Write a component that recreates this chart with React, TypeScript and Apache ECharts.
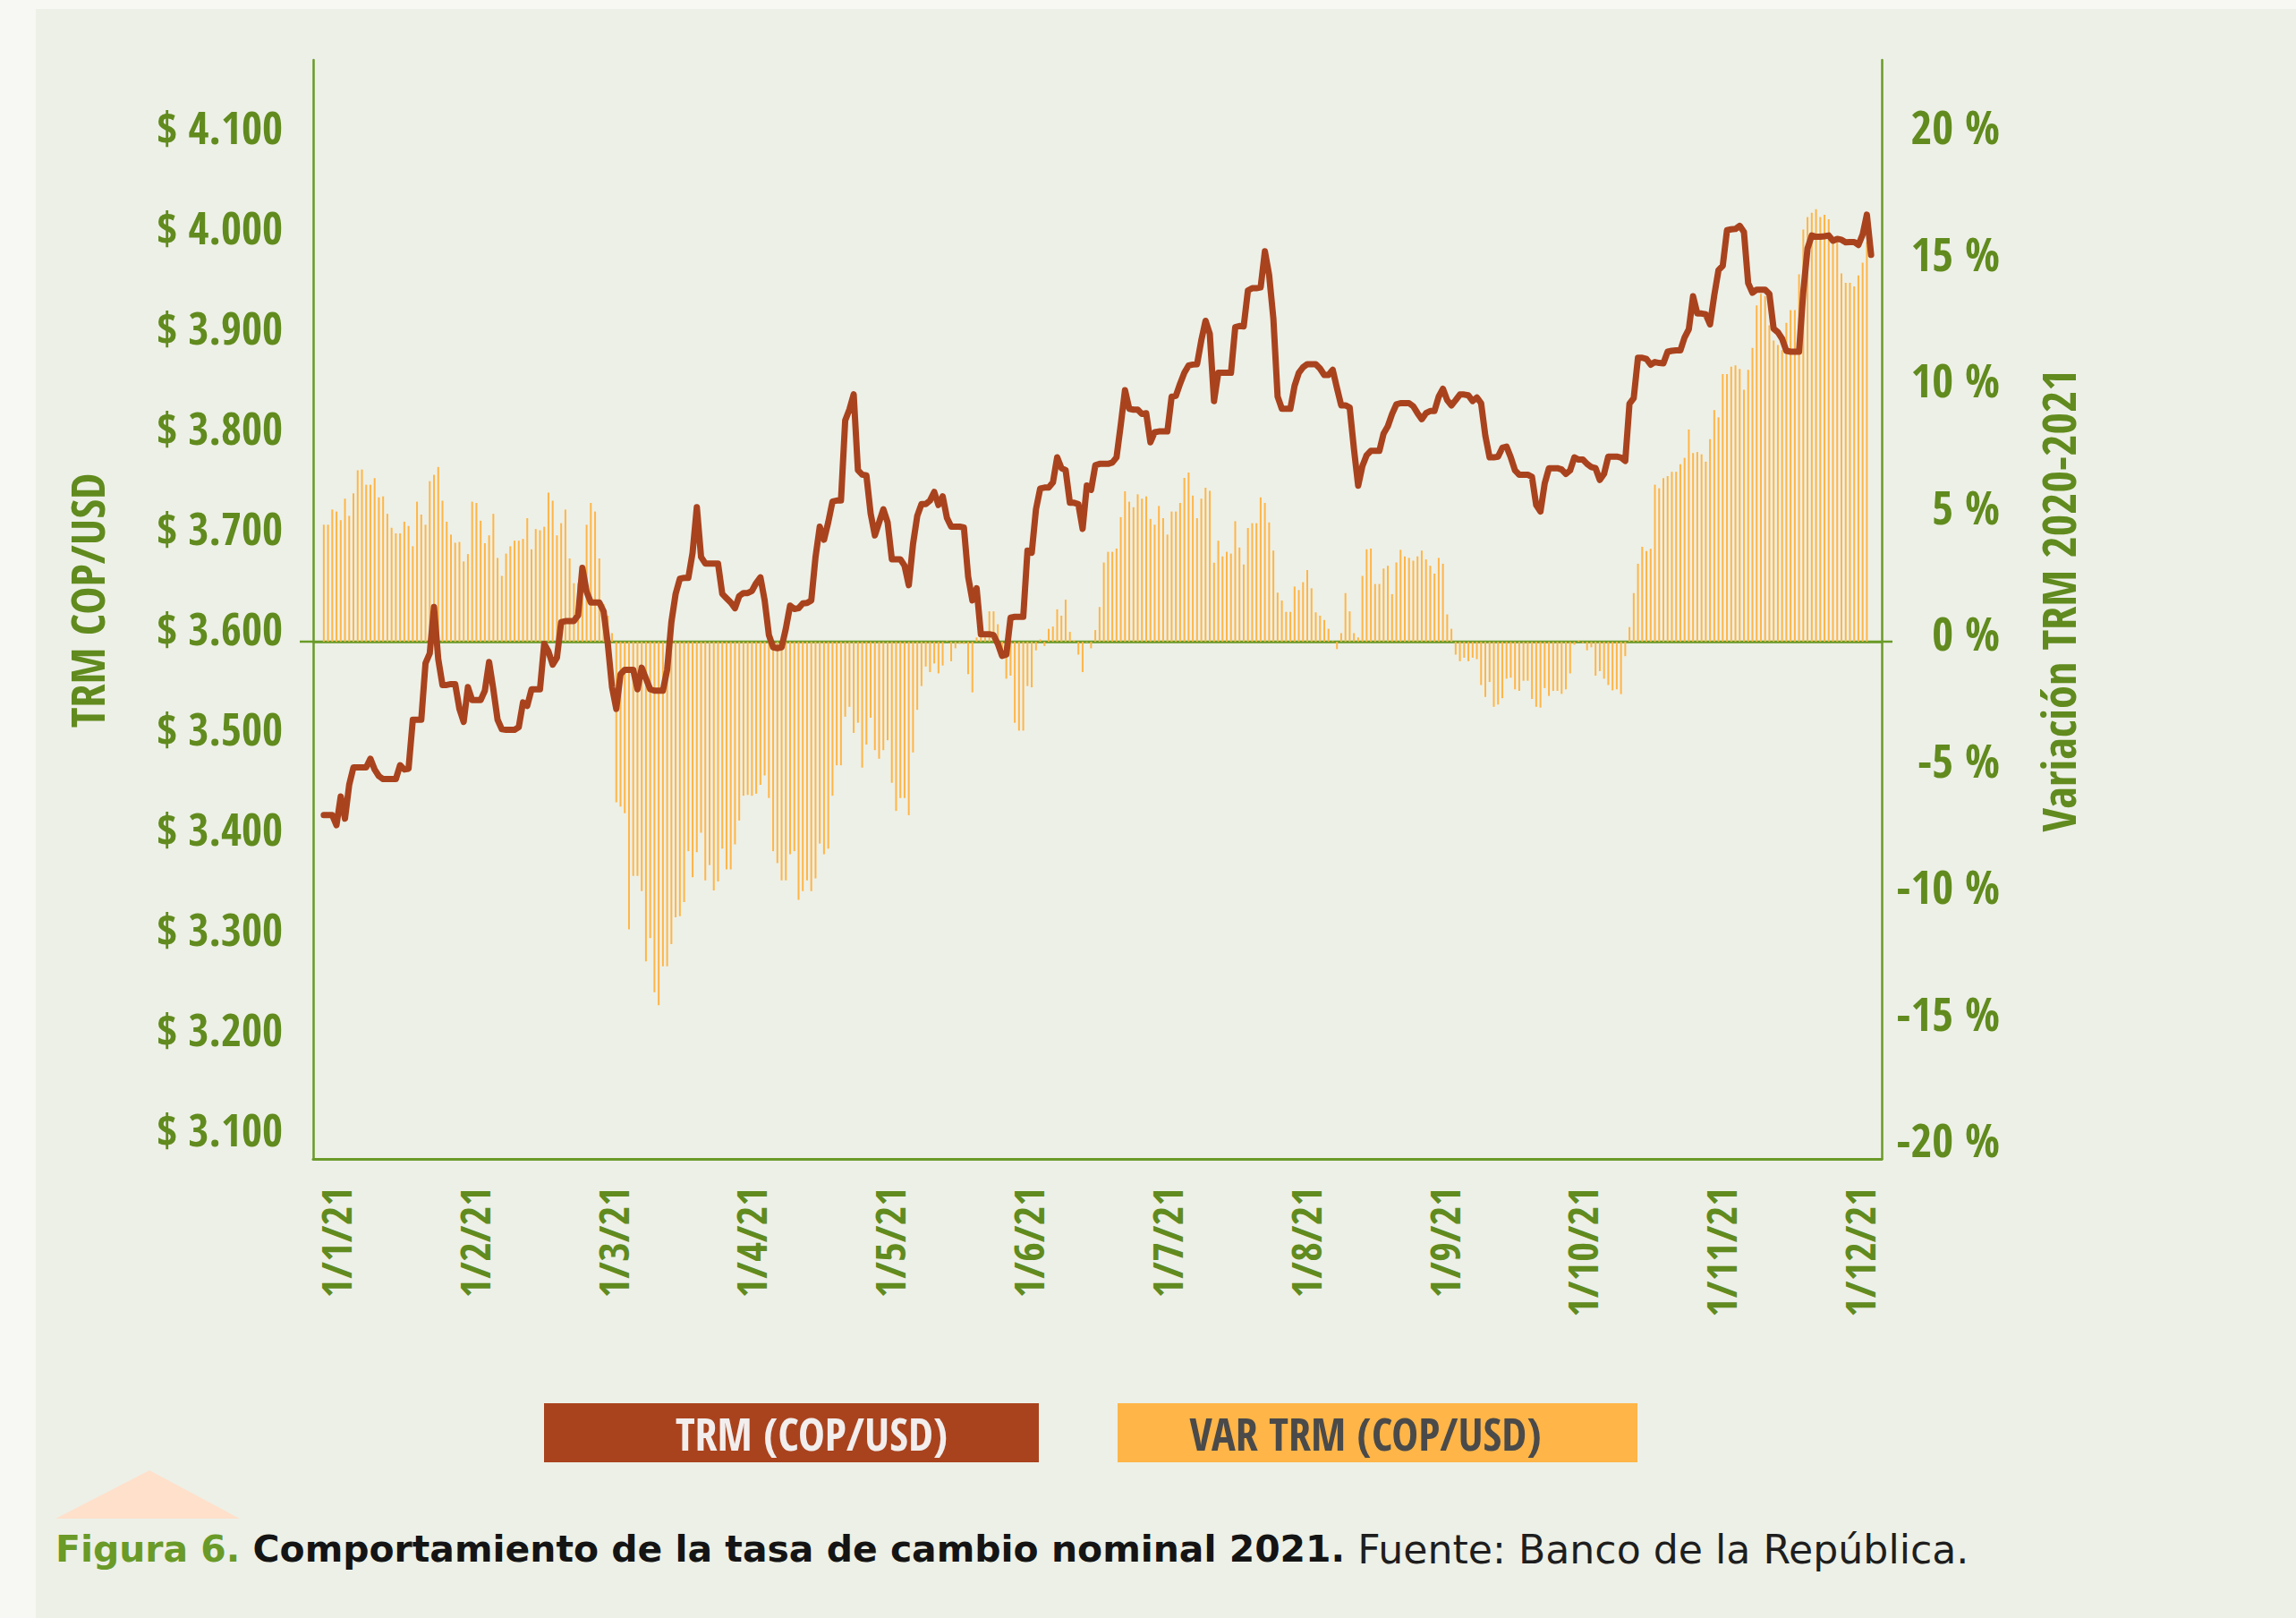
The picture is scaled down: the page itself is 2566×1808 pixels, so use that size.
import React, { useEffect, useRef } from 'react';
import * as echarts from 'echarts';

// ---------- data ----------
const monthLabels = ['1/1/21', '1/2/21', '1/3/21', '1/4/21', '1/5/21', '1/6/21', '1/7/21', '1/8/21', '1/9/21', '1/10/21', '1/11/21', '1/12/21'];
const leftTicks = [3100, 3200, 3300, 3400, 3500, 3600, 3700, 3800, 3900, 4000, 4100];
const rightTicks = [-20, -15, -10, -5, 0, 5, 10, 15, 20];

// TRM (COP/USD), daily 2021
const trm = [
  3422.5, 3422.5, 3422.5, 3412.5, 3441.1, 3419.0, 3452.8, 3470.1, 3470.1, 3470.1,
  3470.1, 3478.7, 3468.0, 3461.4, 3458.4, 3458.4, 3458.4, 3458.4, 3472.3, 3468.0,
  3468.8, 3517.7, 3517.7, 3517.7, 3574.0, 3583.9, 3630.2, 3578.3, 3552.3, 3552.3,
  3553.2, 3553.2, 3528.5, 3515.5, 3550.2, 3537.2, 3537.2, 3537.2, 3546.7, 3575.3,
  3548.0, 3517.7, 3508.2, 3507.7, 3507.7, 3507.7, 3510.3, 3535.0, 3531.5, 3548.0,
  3548.0, 3548.0, 3593.4, 3585.7, 3572.7, 3579.6, 3615.1, 3616.0, 3616.0, 3616.0,
  3622.0, 3669.2, 3645.4, 3634.6, 3634.6, 3634.6, 3625.9, 3593.4, 3550.2, 3528.5,
  3563.1, 3567.5, 3567.5, 3567.5, 3548.0, 3569.6, 3558.8, 3548.0, 3546.7, 3546.7,
  3546.7, 3567.5, 3615.1, 3643.2, 3658.4, 3659.2, 3659.2, 3684.3, 3729.8, 3680.0,
  3673.5, 3673.5, 3673.5, 3673.5, 3643.2, 3638.9, 3634.6, 3628.9, 3641.1, 3644.1,
  3644.1, 3646.2, 3654.0, 3659.7, 3636.7, 3602.1, 3590.0, 3589.1, 3590.0, 3608.6,
  3631.5, 3628.1, 3628.9, 3633.7, 3634.1, 3636.7, 3680.0, 3710.3, 3697.3, 3714.6,
  3735.4, 3736.3, 3736.3, 3816.3, 3827.2, 3842.3, 3766.6, 3762.2, 3761.4, 3723.3,
  3701.6, 3714.6, 3727.6, 3714.6, 3677.8, 3677.8, 3677.8, 3671.3, 3651.9, 3693.0,
  3721.1, 3732.8, 3732.8, 3736.3, 3744.9, 3731.9, 3740.6, 3719.0, 3710.3, 3710.3,
  3710.3, 3709.4, 3660.5, 3636.7, 3648.8, 3603.0, 3603.0, 3603.0, 3602.1, 3593.4,
  3581.3, 3582.6, 3619.4, 3620.3, 3620.3, 3620.3, 3686.5, 3684.3, 3727.6, 3748.4,
  3749.3, 3749.3, 3754.4, 3779.5, 3768.7, 3766.6, 3734.1, 3734.1, 3732.8, 3708.1,
  3751.4, 3747.0, 3771.6, 3772.9, 3772.9, 3772.9, 3774.2, 3779.4, 3811.8, 3846.5,
  3827.9, 3827.0, 3827.0, 3822.7, 3823.5, 3794.5, 3804.5, 3805.3, 3805.3, 3805.3,
  3840.0, 3840.8, 3853.0, 3863.8, 3871.1, 3872.0, 3872.4, 3896.2, 3915.7, 3902.7,
  3835.6, 3863.8, 3863.8, 3863.8, 3863.8, 3909.2, 3910.5, 3910.1, 3946.0, 3948.2,
  3948.2, 3949.0, 3985.0, 3961.2, 3917.9, 3840.0, 3827.9, 3827.9, 3827.9, 3850.8,
  3863.8, 3869.4, 3872.4, 3872.4, 3872.4, 3868.1, 3861.6, 3861.6, 3866.8, 3848.6,
  3831.3, 3831.3, 3829.1, 3788.0, 3751.2, 3770.7, 3781.6, 3785.9, 3785.9, 3785.9,
  3803.2, 3810.5, 3822.7, 3832.2, 3833.5, 3833.5, 3833.5, 3830.4, 3823.5, 3817.5,
  3823.5, 3825.7, 3825.7, 3840.0, 3847.8, 3836.5, 3831.3, 3836.5, 3842.1, 3842.1,
  3841.3, 3835.6, 3839.1, 3833.5, 3801.0, 3779.4, 3779.4, 3780.2, 3788.9, 3790.2,
  3779.4, 3766.4, 3762.1, 3762.1, 3762.1, 3759.9, 3731.8, 3725.3, 3753.4, 3768.6,
  3768.6, 3768.6, 3767.3, 3762.9, 3766.4, 3779.4, 3777.2, 3777.2, 3772.9, 3769.8,
  3768.6, 3756.9, 3762.9, 3780.2, 3780.2, 3780.2, 3779.2, 3775.8, 3832.9, 3838.5,
  3878.8, 3878.8, 3877.5, 3871.9, 3874.5, 3873.6, 3873.2, 3884.8, 3885.7, 3886.1,
  3886.1, 3899.1, 3907.3, 3940.2, 3922.9, 3922.9, 3922.1, 3912.1, 3941.1, 3966.2,
  3970.5, 4006.0, 4006.9, 4007.3, 4010.4, 4004.3, 3953.2, 3943.7, 3946.7, 3946.7,
  3946.7, 3942.4, 3907.8, 3904.3, 3897.8, 3885.7, 3884.8, 3884.8, 3884.8, 3944.6,
  3987.9, 4000.8, 3999.5, 3999.5, 4000.0, 4000.8, 3995.6, 3997.4, 3996.5, 3993.9,
  3994.3, 3994.3, 3991.3, 4001.7, 4021.6, 3981.4,
];

// VAR TRM 2020-2021 (%), daily 2021
const varTrm: (number | null)[] = [
  4.62, 4.62, 5.22, 5.14, 4.80, 5.65, 4.97, 5.86, 6.77, 6.80,
  6.20, 6.20, 6.46, 5.70, 5.74, 5.05, 4.50, 4.28, 4.28, 4.74,
  4.57, 3.77, 5.53, 5.02, 4.62, 6.34, 6.59, 6.90, 5.57, 4.74,
  4.23, 3.91, 3.94, 3.17, 3.46, 5.53, 5.48, 4.78, 3.89, 4.20,
  5.05, 3.31, 2.60, 3.48, 3.77, 3.99, 3.99, 4.06, 4.88, 3.65,
  4.45, 4.40, 4.54, 5.89, 5.57, 4.20, 4.68, 5.22, 3.29, 2.31,
  2.31, 2.57, 4.62, 5.48, 5.14, 3.29, 1.49, 1.03, 0.34, -6.34,
  -6.51, -6.77, -11.36, -9.25, -9.25, -9.85, -12.62, -11.70, -13.84, -14.35,
  -12.81, -12.81, -11.94, -10.88, -10.84, -10.28, -8.27, -9.30, -8.31, -7.54,
  -9.42, -8.82, -9.82, -9.47, -8.17, -8.99, -8.99, -8.00, -7.06, -6.08,
  -6.05, -6.08, -6.00, -5.65, -5.28, -6.17, -8.27, -8.74, -9.42, -9.42,
  -8.39, -8.27, -10.19, -9.85, -9.42, -9.85, -9.34, -7.97, -8.39, -8.17,
  -6.08, -4.88, -4.88, -2.96, -2.57, -3.60, -3.20, -4.97, -4.06, -3.00,
  -4.28, -4.62, -4.28, -3.89, -5.57, -6.68, -6.17, -6.17, -6.85, -4.37,
  -2.69, -1.75, -0.98, -1.20, -0.86, -1.25, -0.94, 0.03, -0.77, -0.26,
  -0.09, -0.09, -1.28, -2.00, 0.17, 0.17, 0.17, 1.20, 1.20, 0.69,
  -0.34, -1.46, -1.34, -3.20, -3.51, -3.51, -1.75, -1.80, -0.34, 0.09,
  -0.17, 0.51, 0.60, 1.28, 1.03, 1.66, 0.39, 0.05, -0.51, -1.20,
  -0.03, -0.26, 0.46, 1.37, 3.13, 3.55, 3.55, 3.68, 4.92, 5.94,
  5.53, 5.31, 5.82, 5.65, 5.74, 4.85, 4.62, 5.36, 4.88, 4.23,
  5.14, 5.14, 5.48, 6.47, 6.68, 5.77, 4.88, 5.65, 6.08, 5.96,
  3.12, 3.99, 3.37, 3.55, 3.48, 4.76, 3.72, 3.05, 4.49, 4.68,
  4.68, 5.70, 5.48, 4.71, 3.60, 1.94, 1.63, 1.18, 1.18, 2.18,
  2.04, 2.35, 2.83, 2.11, 1.16, 1.03, 0.86, 0.51, 0.03, -0.29,
  0.34, 1.92, 1.20, 0.34, 0.17, 2.60, 3.65, 3.68, 2.28, 2.28,
  2.89, 3.00, 1.88, 3.13, 3.63, 3.37, 3.31, 3.20, 3.37, 3.60,
  3.25, 3.00, 2.69, 3.31, 3.08, 1.08, 0.51, -0.51, -0.77, -0.63,
  -0.77, -0.63, -0.69, -1.71, -2.18, -1.59, -2.57, -2.48, -2.23, -1.46,
  -1.42, -1.88, -1.94, -1.54, -1.54, -2.26, -2.57, -2.60, -1.83, -2.14,
  -1.94, -1.94, -2.06, -1.88, -1.25, -0.12, 0.05, -0.05, -0.34, -0.22,
  -1.34, -1.16, -1.46, -1.71, -1.92, -1.88, -2.07, -0.57, 0.58, 1.92,
  3.08, 3.75, 3.58, 3.67, 6.20, 6.06, 6.46, 6.54, 6.71, 6.71,
  7.01, 7.26, 8.38, 7.45, 7.49, 7.40, 7.11, 8.00, 9.15, 8.86,
  10.57, 10.57, 10.86, 10.91, 10.77, 9.95, 10.74, 11.60, 13.28, 13.74,
  13.65, 12.49, 11.89, 11.72, 11.51, 12.59, 13.09, 13.09, 14.51, 16.27,
  16.77, 16.94, 17.08, 16.77, 16.86, 16.68, 15.79, 15.79, 14.54, 14.17,
  14.17, 14.03, 14.46, 14.97, 15.79, null,
];

// ---------- styles ----------
const GREEN = '#618B1E';
const AXIS_GREEN = '#6A9A28';
const LINE_COLOR = '#A9431E';
const BAR_COLOR = '#FFB547';
const CAPTION_FAMILY = "'DejaVu Sans', 'Noto Sans', sans-serif";
const COND_CANDIDATES = [
  'Noto Sans Condensed', 'Noto Sans SemiCondensed', 'Open Sans Condensed', 'Roboto Condensed',
  'Liberation Sans Narrow', 'Arial Narrow', 'DejaVu Sans Condensed',
];

const CAPTION_FIG = 'Figura 6.';
const CAPTION_BOLD = 'Comportamiento de la tasa de cambio nominal 2021.';
const CAPTION_SRC = 'Fuente: Banco de la República.';

const fmtPeso = (v: number) => {
  const th = Math.floor(v / 1000);
  const rest = String(Math.round(v % 1000)).padStart(3, '0');
  return `$ ${th}.${rest}`;
};

type Fonts = {
  cond: string; yl: number; yr: number; xl: number; title: number; legend: number; caption: number;
};

function pickFonts(): Fonts {
  const ctx = document.createElement('canvas').getContext('2d') as CanvasRenderingContext2D;
  const probe = 'abcdefghijklmnopqrstuvwxyzABCDEFGHIJKLMNOPQRSTUVWXYZ0123456789$%/';
  const w = (font: string, t: string) => { ctx.font = font; return ctx.measureText(t).width; };
  const has = (name: string) => {
    const a = w('bold 50px monospace', probe) !== w(`bold 50px '${name}', monospace`, probe);
    const b = w('bold 50px serif', probe) !== w(`bold 50px '${name}', serif`, probe);
    return a || b;
  };
  let chosen = 'DejaVu Sans Condensed';
  for (const c of COND_CANDIDATES) { if (has(c)) { chosen = c; break; } }
  const cond = `'${chosen}', 'DejaVu Sans Condensed', sans-serif`;
  const fit = (text: string, base: number, target: number, family = cond, weight = 'bold', k = 0.6) => {
    const r = target / w(`${weight} ${base}px ${family}`, text);
    return Math.round(base * Math.min(1.1, Math.max(0.7, Math.pow(r, k))) * 10) / 10;
  };
  const capW = (size: number) =>
    w(`bold ${size}px ${CAPTION_FAMILY}`, CAPTION_FIG + ' ' + CAPTION_BOLD + ' ') + w(`normal ${size}px ${CAPTION_FAMILY}`, CAPTION_SRC);
  const capR = 2155 / capW(36);
  return {
    cond,
    yl: fit('$ 4.100', 50, 140),
    yr: fit('-20 %', 50, 118),
    xl: fit('1/10/21', 52, 136),
    title: fit('Variación TRM 2020-2021', 54, 507),
    legend: fit('VAR TRM (COP/USD)', 50, 393),
    caption: Math.round(36 * Math.min(1.2, Math.max(0.8, Math.pow(capR, 0.8))) * 10) / 10,
  };
}

function buildGraphic(f: Fonts): any[] {
  const cond = f.cond;
  return [
    { type: 'rect', shape: { x: 608, y: 1568, width: 553, height: 66 }, style: { fill: '#A9431E' } },
    {
      type: 'text', x: 907, y: 1601,
      style: { text: 'TRM (COP/USD)', fill: '#F2EEEE', fontFamily: cond, fontWeight: 'bold', fontSize: f.legend, align: 'center', verticalAlign: 'middle' },
    },
    { type: 'rect', shape: { x: 1249, y: 1568, width: 581, height: 66 }, style: { fill: BAR_COLOR } },
    {
      type: 'text', x: 1526, y: 1601,
      style: { text: 'VAR TRM (COP/USD)', fill: '#4A4A4A', fontFamily: cond, fontWeight: 'bold', fontSize: f.legend, align: 'center', verticalAlign: 'middle' },
    },
    {
      type: 'polygon', shape: { points: [[62, 1697], [167, 1643], [268, 1697]] },
      style: { fill: '#FFE0CB' },
    },
    {
      type: 'text', x: 62, y: 1731,
      style: {
        text: `{g|${CAPTION_FIG}} {b|${CAPTION_BOLD}} {r|${CAPTION_SRC}}`,
        verticalAlign: 'middle', align: 'left',
        fontFamily: CAPTION_FAMILY, fontSize: f.caption, fontWeight: 'bold',
        rich: {
          g: { fill: '#6A9A28', fontWeight: 'bold', fontSize: f.caption, fontFamily: CAPTION_FAMILY },
          b: { fill: '#141414', fontWeight: 'bold', fontSize: f.caption, fontFamily: CAPTION_FAMILY },
          r: { fill: '#1E1E1E', fontWeight: 'normal', fontSize: Math.round(f.caption * 1.08 * 10) / 10, fontFamily: CAPTION_FAMILY },
        },
      },
    },
  ];
}

function buildOption(f: Fonts): any {
  const n = trm.length;
  const cond = f.cond;
  return {
    animation: false,
    grid: [
      { left: 350, right: 463, top: 67, bottom: 513, outerBoundsMode: 'none' },
      { left: 375, right: 488, top: 67, bottom: 513, outerBoundsMode: 'none' },
    ],
    xAxis: [
      {
        type: 'value', gridIndex: 0, min: -2.5, max: n + 1.5, position: 'bottom',
        axisLine: { show: true, onZero: false, lineStyle: { color: AXIS_GREEN, width: 3 } },
        axisTick: { show: false }, axisLabel: { show: false }, splitLine: { show: false },
      },
      {
        type: 'value', gridIndex: 0, min: -2.5, max: n + 1.5, position: 'top',
        axisLine: { show: true, onZero: true, onZeroAxisIndex: 1, lineStyle: { color: AXIS_GREEN, width: 2.5 } },
        axisTick: { show: false }, axisLabel: { show: false }, splitLine: { show: false },
      },
      {
        type: 'category', gridIndex: 1, data: monthLabels, boundaryGap: false,
        axisLine: { show: false }, axisTick: { show: false }, splitLine: { show: false },
        axisLabel: {
          interval: 0, rotate: 90, margin: 31, color: GREEN,
          fontFamily: cond, fontWeight: 'bold', fontSize: f.xl,
        },
      },
    ],
    yAxis: [
      {
        type: 'value', gridIndex: 0, position: 'left', min: 3079.5, max: 4175.9,
        axisLine: { show: true, onZero: false, lineStyle: { color: AXIS_GREEN, width: 2.5 } },
        axisTick: { show: false }, splitLine: { show: false },
        axisLabel: {
          customValues: leftTicks, formatter: fmtPeso, margin: 34, color: GREEN,
          fontFamily: cond, fontWeight: 'bold', fontSize: f.yl,
          verticalAlign: 'bottom', lineHeight: 20,
        },
        name: 'TRM COP/USD', nameLocation: 'middle', nameGap: 254,
        nameTextStyle: {
          color: GREEN, fontFamily: cond, fontWeight: 'bold', fontSize: f.title,
          align: 'center', verticalAlign: 'middle', padding: [0, 0, 0, 20],
        },
      },
      {
        type: 'value', gridIndex: 0, position: 'right', min: -20.42, max: 22.97,
        axisLine: { show: true, onZero: false, lineStyle: { color: AXIS_GREEN, width: 2.5 } },
        axisTick: { show: false }, splitLine: { show: false },
        axisLabel: {
          customValues: rightTicks, formatter: (v: number) => `${v} %`, margin: 132, align: 'right',
          color: GREEN, fontFamily: cond, fontWeight: 'bold', fontSize: f.yr,
          verticalAlign: 'bottom', lineHeight: 20,
        },
        name: 'Variación TRM 2020-2021', nameLocation: 'middle', nameGap: 196,
        nameTextStyle: {
          color: GREEN, fontFamily: cond, fontWeight: 'bold', fontSize: f.title,
          align: 'center', verticalAlign: 'middle', padding: [0, 0, 0, 20],
        },
      },
      { type: 'value', gridIndex: 1, show: false },
    ],
    series: [
      {
        name: 'VAR TRM (COP/USD)', type: 'bar', xAxisIndex: 0, yAxisIndex: 1,
        barWidth: 2, itemStyle: { color: BAR_COLOR },
        data: varTrm.map((v, i) => [i, v == null ? '-' : v]),
      },
      {
        name: 'TRM (COP/USD)', type: 'line', xAxisIndex: 0, yAxisIndex: 0,
        symbol: 'none', showSymbol: false,
        lineStyle: { color: LINE_COLOR, width: 7, cap: 'round', join: 'round' },
        itemStyle: { color: LINE_COLOR },
        data: trm.map((v, i) => [i, v]),
      },
    ],
    graphic: buildGraphic(f),
  };
}

export default function App() {
  const ref = useRef<HTMLDivElement>(null);
  useEffect(() => {
    if (!ref.current) return;
    const chart = echarts.init(ref.current, null, { renderer: 'svg' });
    const fonts = pickFonts();
    chart.setOption(buildOption(fonts));
    // zero line of the variation axis, slightly extended past both axes (as in the original)
    const y0 = chart.convertToPixel({ yAxisIndex: 1 }, 0) as unknown as number;
    if (typeof y0 === 'number' && isFinite(y0)) {
      chart.setOption({
        graphic: [
          ...buildGraphic(fonts),
          {
            type: 'line', z: 1, silent: true,
            shape: { x1: 335, y1: y0, x2: 2115, y2: y0 },
            style: { stroke: AXIS_GREEN, lineWidth: 2.5 },
          },
        ],
      });
    }
    return () => chart.dispose();
  }, []);
  return (
    <div style={{ position: 'absolute', left: 0, top: 0, width: 2566, height: 1808, background: '#F7F7F4', overflow: 'hidden' }}>
      <div style={{ position: 'absolute', left: 40, top: 10, right: 0, bottom: 0, background: '#EDF0E7' }} />
      <div ref={ref} style={{ position: 'absolute', left: 0, top: 0, width: 2566, height: 1808 }} />
    </div>
  );
}
